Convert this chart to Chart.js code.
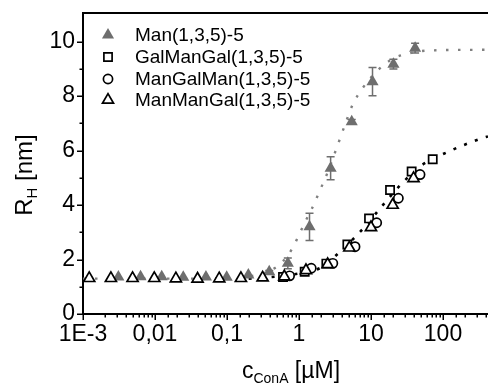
<!DOCTYPE html>
<html>
<head>
<meta charset="utf-8">
<script src="https://cdn.jsdelivr.net/npm/chart.js@4.4.1/dist/chart.umd.min.js"></script>
<style>
  html, body { margin: 0; padding: 0; background: #fff; overflow: hidden; }
  #wrap { position: relative; width: 488px; height: 383px; }
</style>
</head>
<body>
<div id="wrap"><canvas id="rhChart" width="488" height="383"></canvas></div>
<script>
(function () {
  'use strict';

  // Man(1,3,5)-5 (grey filled triangles)
  var manConc = [0.0031, 0.0063, 0.0124, 0.0247, 0.051, 0.099, 0.198, 0.386, 0.7, 1.4, 2.75, 5.4, 10.5, 20.5, 41];
  var manR    = [1.36, 1.37, 1.37, 1.35, 1.36, 1.35, 1.43, 1.55, 1.86, 3.2, 5.35, 7.06, 8.53, 9.17, 9.76];
  var manErr  = [0, 0, 0, 0, 0, 0, 0, 0.05, 0.2, 0.5, 0.42, 0.08, 0.52, 0.18, 0.18];

  // GalManGal(1,3,5)-5 (open squares)
  var galConc = [0.6, 1.2, 2.4, 4.7, 9.4, 18.4, 36.7, 72];
  var galR    = [1.36, 1.55, 1.85, 2.55, 3.51, 4.55, 5.23, 5.68];

  // ManGalMan(1,3,5)-5 (open circles)
  var mgmConc = [0.74, 1.48, 2.95, 6.0, 12, 24, 48];
  var mgmR    = [1.4, 1.68, 1.86, 2.47, 3.35, 4.25, 5.12];

  // ManManGal(1,3,5)-5 (open triangles)
  var mmgConc = [0.00122, 0.00244, 0.00488, 0.00977, 0.0195, 0.039, 0.078, 0.156, 0.3125, 0.625, 1.25, 2.5, 5, 10, 20, 39];
  var mmgR    = [1.31, 1.31, 1.31, 1.31, 1.30, 1.29, 1.30, 1.31, 1.33, 1.37, 1.6, 1.82, 2.43, 3.18, 4.0, 4.98];

  // fitted curves
  var greyFitX = [0.001, 0.05, 0.15, 0.3, 0.5, 0.7, 0.9, 1.2, 1.5, 2.0, 2.5, 3.5, 4.5, 5.6, 7.7, 12.5, 20, 32, 60, 422];
  var greyFitY = [1.3, 1.3, 1.35, 1.48, 1.75, 2.15, 2.65, 3.35, 3.85, 4.6, 5.2, 6.25, 7.05, 7.7, 8.3, 8.95, 9.37, 9.55, 9.67, 9.7];
  var blackFitX = [0.2, 0.5, 1, 2, 4, 8, 14, 27, 50, 80, 112, 163, 237, 347, 422];
  var blackFitY = [1.3, 1.38, 1.49, 1.7, 2.37, 3.17, 3.94, 4.8, 5.45, 5.75, 5.93, 6.12, 6.29, 6.45, 6.52];

  // axis tick labels
  var xTickValues = [0.001, 0.01, 0.1, 1, 10, 100];
  var xTickLabels = ['1E-3', '0,01', '0,1', '1', '10', '100'];
  var yTickValues = [0, 2, 4, 6, 8, 10];

  var FONT = "Arial, 'Liberation Sans', sans-serif";
  var GREY = '#6e6e6e';

  function pts(xs, ys) {
    return xs.map(function (x, i) { return { x: x, y: ys[i] }; });
  }

  var series = [
    { label: 'Man(1,3,5)-5', style: 'triangle', radius: 7, fill: GREY, stroke: GREY, bw: 0 },
    { label: 'GalManGal(1,3,5)-5', style: 'rect', radius: 5.8, fill: '#fff', stroke: '#000', bw: 1.7 },
    { label: 'ManGalMan(1,3,5)-5', style: 'circle', radius: 4.6, fill: '#fff', stroke: '#000', bw: 1.7 },
    { label: 'ManManGal(1,3,5)-5', style: 'triangle', radius: 6.4, fill: '#fff', stroke: '#000', bw: 1.7 }
  ];
  var seriesData = [pts(manConc, manR), pts(galConc, galR), pts(mgmConc, mgmR), pts(mmgConc, mmgR)];

  var datasets = [];
  datasets.push({
    label: 'fit Man', data: pts(greyFitX, greyFitY), showLine: true,
    borderColor: '#808080', borderWidth: 2.4, borderDash: [2.5, 9.5],
    cubicInterpolationMode: 'monotone', pointRadius: 0, order: 10
  });
  datasets.push({
    label: 'fit others', data: pts(blackFitX, blackFitY), showLine: true,
    borderColor: '#000', borderWidth: 2.6, borderDash: [3, 8.5],
    cubicInterpolationMode: 'monotone', pointRadius: 0, order: 9
  });
  series.forEach(function (s, i) {
    datasets.push({
      label: s.label, data: seriesData[i], showLine: false,
      pointStyle: s.style, pointRadius: s.radius, pointHoverRadius: s.radius,
      pointBackgroundColor: s.fill, pointBorderColor: s.stroke, pointBorderWidth: s.bw,
      order: 5 - i
    });
  });

  function isDecade(v) {
    var l = Math.log10(v);
    return Math.abs(l - Math.round(l)) < 1e-6;
  }

  var decor = {
    id: 'decor',
    beforeDatasetsDraw: function (chart) {
      // error bars of Man(1,3,5)-5
      var ctx = chart.ctx, xs = chart.scales.x, ys = chart.scales.y;
      ctx.save();
      ctx.strokeStyle = GREY;
      ctx.lineWidth = 1.5;
      manConc.forEach(function (c, i) {
        if (!manErr[i]) return;
        var px = xs.getPixelForValue(c);
        var top = ys.getPixelForValue(manR[i] + manErr[i]);
        var bot = ys.getPixelForValue(manR[i] - manErr[i]);
        ctx.beginPath();
        ctx.moveTo(px, top); ctx.lineTo(px, bot);
        ctx.moveTo(px - 4, top); ctx.lineTo(px + 4, top);
        ctx.moveTo(px - 4, bot); ctx.lineTo(px + 4, bot);
        ctx.stroke();
      });
      ctx.restore();
    },
    afterDraw: function (chart) {
      var ctx = chart.ctx, a = chart.chartArea;
      var xs = chart.scales.x, ys = chart.scales.y;
      ctx.save();
      ctx.strokeStyle = '#000';
      ctx.lineWidth = 2;
      // top frame
      ctx.beginPath();
      ctx.moveTo(a.left - 1, a.top);
      ctx.lineTo(a.right, a.top);
      ctx.stroke();

      // tick marks
      ctx.lineWidth = 1.5;
      ctx.beginPath();
      xs.ticks.forEach(function (t) {
        if (t.value > xs.max - 1e-9 && !isDecade(t.value)) return;
        var px = Math.round(xs.getPixelForValue(t.value)) + 0.25;
        var len = isDecade(t.value) ? 6 : 3.5;
        ctx.moveTo(px, a.bottom);
        ctx.lineTo(px, a.bottom + len);
      });
      for (var v = 0; v <= 10; v++) {
        var py = Math.round(ys.getPixelForValue(v)) + 0.25;
        var l = v % 2 === 0 ? 6 : 3.5;
        ctx.moveTo(a.left, py);
        ctx.lineTo(a.left - l, py);
      }
      ctx.stroke();

      // legend
      ctx.font = '19px ' + FONT;
      ctx.textBaseline = 'middle';
      ctx.textAlign = 'left';
      var rows = [35, 57, 79, 100];
      series.forEach(function (s, i) {
        ctx.fillStyle = s.fill;
        ctx.strokeStyle = s.stroke;
        ctx.lineWidth = s.bw;
        Chart.helpers.drawPoint(ctx, {
          pointStyle: s.style, radius: s.radius, rotation: 0, borderWidth: s.bw
        }, 108, rows[i]);
        ctx.fillStyle = '#000';
        ctx.fillText(s.label, 135, rows[i] + 1);
      });

      // axis titles with subscripts
      ctx.fillStyle = '#000';
      ctx.textBaseline = 'alphabetic';
      var big = '23px ' + FONT, small = '14px ' + FONT;
      ctx.font = big; var w1 = ctx.measureText('c').width;
      ctx.font = small; var w2 = ctx.measureText('ConA').width;
      ctx.font = big; var w3 = ctx.measureText(' [\u00b5M]').width;
      var x0 = 291 - (w1 + w2 + w3) / 2;
      ctx.font = big; ctx.fillText('c', x0, 378);
      ctx.font = small; ctx.fillText('ConA', x0 + w1, 383);
      ctx.font = big; ctx.fillText(' [\u00b5M]', x0 + w1 + w2, 378);

      ctx.translate(32, 175);
      ctx.rotate(-Math.PI / 2);
      var bigY = '24px ' + FONT, smallY = '15px ' + FONT;
      ctx.font = bigY; var r1 = ctx.measureText('R').width;
      ctx.font = smallY; var r2 = ctx.measureText('H').width;
      ctx.font = bigY; var r3 = ctx.measureText(' [nm]').width;
      var s0 = -(r1 + r2 + r3) / 2;
      ctx.font = bigY; ctx.fillText('R', s0, 0);
      ctx.font = smallY; ctx.fillText('H', s0 + r1, 5);
      ctx.font = bigY; ctx.fillText(' [nm]', s0 + r1 + r2, 0);
      ctx.restore();
    }
  };

  new Chart(document.getElementById('rhChart').getContext('2d'), {
    type: 'scatter',
    data: { datasets: datasets },
    plugins: [decor],
    options: {
      responsive: false,
      animation: false,
      devicePixelRatio: 1,
      layout: { autoPadding: false, padding: { top: 13, right: 0, left: 0, bottom: 0 } },
      plugins: { legend: { display: false }, tooltip: { enabled: false } },
      scales: {
        x: {
          type: 'logarithmic',
          min: 0.001,
          max: 422,
          afterFit: function (scale) {
            scale.height = 69;
            scale.paddingLeft = 0;
            scale.paddingRight = 0;
          },
          border: { display: true, color: '#000', width: 2 },
          grid: { display: true, drawOnChartArea: false, drawTicks: true, tickLength: 6, color: 'rgba(0,0,0,0)' },
          ticks: {
            autoSkip: false, maxRotation: 0, padding: 1, color: '#000',
            font: { family: FONT, size: 23 },
            callback: function (value) {
              for (var i = 0; i < xTickValues.length; i++) {
                if (Math.abs(value / xTickValues[i] - 1) < 1e-6) return xTickLabels[i];
              }
              return '';
            }
          }
        },
        y: {
          min: 0,
          max: 11.05,
          afterFit: function (scale) {
            scale.width = 83;
            scale.paddingTop = 0;
            scale.paddingBottom = 0;
          },
          border: { display: true, color: '#000', width: 2 },
          grid: { display: true, drawOnChartArea: false, drawTicks: true, tickLength: 6, color: 'rgba(0,0,0,0)' },
          ticks: {
            stepSize: 1, autoSkip: false, padding: 2, color: '#000',
            font: { family: FONT, size: 23 },
            callback: function (value) {
              return yTickValues.indexOf(value) >= 0 ? String(value) : '';
            }
          }
        }
      }
    }
  });
})();
</script>
</body>
</html>
